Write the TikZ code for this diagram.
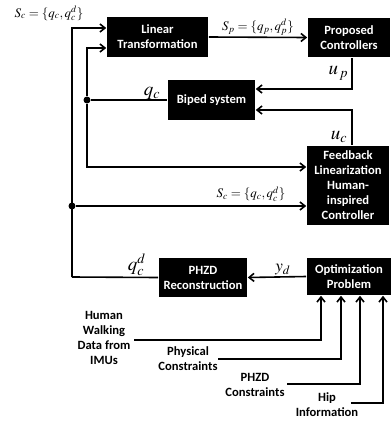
\documentclass[tikz,border=0pt]{standalone}
\usepackage{mathptmx}
\usepackage{fontspec}
\setmainfont{Carlito}
\usetikzlibrary{arrows.meta, positioning}

\begin{document}
\begin{tikzpicture}[x=1pt, y=-1pt, >={Straight Barb[length=5pt, width=8pt]}, line width=1.6pt,
  block/.style={fill=black, text=white, font=\bfseries\fontsize{12.6}{15}\selectfont, align=center, inner sep=0pt},
  source/.style={font=\bfseries\fontsize{12.6}{15}\selectfont, align=center, inner sep=1pt},
  dot/.style={circle, fill=black, inner sep=0pt, minimum size=7pt},
  sig/.style={inner sep=1pt, font=\fontsize{19}{21}\selectfont},
  set/.style={inner sep=1pt, font=\fontsize{13}{15}\selectfont}]

  \useasboundingbox (0,0) rectangle (391,421);

  % Blocks
  \node[block, minimum width=101pt, minimum height=40pt] (LT) at (157.5,37) {Linear\\Transformation};
  \node[block, minimum width=82pt, minimum height=39pt] (PC) at (349,37.5) {Proposed\\Controllers};
  \node[block, minimum width=87pt, minimum height=40pt] (BS) at (211.5,100) {Biped system};
  \node[block, minimum width=82pt, minimum height=79pt] (FB) at (348,185.5) {Feedback\\Linearization\\Human-\\inspired\\Controller};
  \node[block, minimum width=88pt, minimum height=39pt] (PR) at (203,277.5) {PHZD\\Reconstruction};
  \node[block, minimum width=84pt, minimum height=37pt] (OP) at (349,276.5) {Optimization\\Problem};

  % Inputs of the optimization
  \node[source] (HW) at (104,338) {Human\\Walking\\Data from\\IMUs};
  \node[source] (PhC) at (188,359) {Physical\\Constraints};
  \node[source] (ZC) at (255,385) {PHZD\\Constraints};
  \node[source] (HI) at (327,405) {Hip\\Information};

  % Branch points
  \node[dot] (qdot) at (87,100) {};
  \node[dot] (sdot) at (72,206) {};
  \coordinate (qcorner) at (72,277);

  \node[set] (Sc) at (49,13) {$S_c=\{q_c,q_c^d\}$};

  % Edges
  \draw[->] (LT.east) -- node[midway, above=0pt, set] {$S_p=\{q_p,q_p^d\}$} (PC.west);
  \draw[->] ([xshift=3pt]PC.south) |- node[pos=0.25, left=2pt, sig] {$u_{\,p}$} ([yshift=11pt]BS.east);
  \draw[->] ([xshift=4pt]FB.north) |- node[pos=0.12, left=3pt, sig] {$u_c$} ([yshift=-10pt]BS.east);
  \draw (BS.west) -- node[pos=0.2, above=-1pt, sig] {$q_c$} (qdot);
  \draw[->] (qdot) |- ([yshift=-11pt]LT.west);
  \draw[->] (qdot) |- ([yshift=18.5pt]FB.west);
  \draw[->] (OP.west) -- node[pos=0.4, above=0pt, sig, font=\fontsize{17}{19}\selectfont] {$y_d$} (PR.east);
  \draw (PR.west) -- node[pos=0.25, above=0pt, sig] {$q_c^d$} (qcorner);
  \draw[->] (qcorner) |- ([yshift=9pt]LT.west);
  \draw[->] (sdot) -- node[pos=0.76, above=3pt, set] {$S_c=\{q_c,q_c^d\}$} ([yshift=-20.5pt]FB.west);

  \draw[->] ([xshift=2pt, yshift=-2pt]HW.east) -| ([xshift=-28pt]OP.south);
  \draw[->] ([xshift=-1pt]PhC.east) -| ([xshift=-8pt]OP.south);
  \draw[->] ([xshift=1pt, yshift=1pt]ZC.east) -| ([xshift=11pt]OP.south);
  \draw[->] ([xshift=-9pt, yshift=2pt]HI.east) -| ([xshift=34pt]OP.south);

\end{tikzpicture}
\end{document}
